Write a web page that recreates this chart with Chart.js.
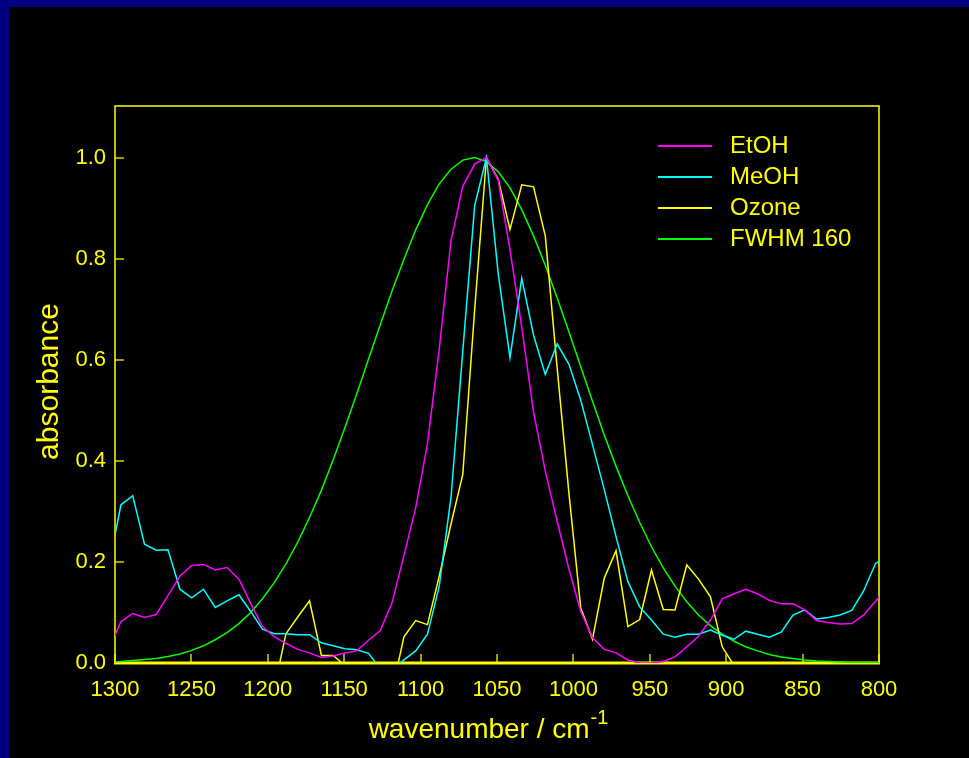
<!DOCTYPE html>
<html>
<head>
<meta charset="utf-8">
<script src="https://cdn.jsdelivr.net/npm/chart.js@4/dist/chart.umd.min.js"></script>
<style>
  html, body { margin: 0; padding: 0; background: #000080; overflow: hidden; }
  #panel { position: absolute; left: 9px; top: 7px; right: 0; bottom: 0; background: #000; }
  #spectra { position: absolute; left: 0; top: 0; }
</style>
</head>
<body>
<div id="panel"></div>
<canvas id="spectra" width="969" height="758"></canvas>
<script>
// wavenumber grid (cm-1), first and last points fall just outside the axis
const wavenumbers = [1303.8, 1296.1, 1288.4, 1280.7, 1273.0, 1265.3, 1257.5, 1249.8, 1242.1, 1234.4,
  1226.7, 1218.9, 1211.2, 1203.5, 1195.8, 1188.1, 1180.4, 1172.7, 1164.9, 1157.2,
  1149.5, 1141.8, 1134.1, 1126.4, 1118.7, 1110.9, 1103.2, 1095.5, 1087.8, 1080.1,
  1072.4, 1064.6, 1056.9, 1049.2, 1041.5, 1033.8, 1026.1, 1018.4, 1010.6, 1002.9,
  995.2, 987.5, 979.8, 972.1, 964.3, 956.6, 948.9, 941.2, 933.5, 925.8,
  918.1, 910.3, 902.6, 894.9, 887.2, 879.5, 871.8, 864.0, 856.3, 848.6,
  840.9, 833.2, 825.5, 817.8, 810.0, 802.3, 794.6];

const etoh = [0.028, 0.082, 0.098, 0.090, 0.096, 0.134, 0.172, 0.193, 0.195, 0.184,
  0.189, 0.166, 0.118, 0.072, 0.052, 0.039, 0.027, 0.020, 0.011, 0.014,
  0.020, 0.024, 0.045, 0.064, 0.119, 0.213, 0.307, 0.434, 0.621, 0.835,
  0.943, 0.987, 1.000, 0.955, 0.818, 0.664, 0.497, 0.380, 0.280, 0.186,
  0.102, 0.050, 0.027, 0.020, 0.006, 0.000, 0.000, 0.003, 0.012, 0.032,
  0.053, 0.085, 0.127, 0.137, 0.146, 0.137, 0.124, 0.117, 0.117, 0.105,
  0.084, 0.080, 0.077, 0.078, 0.095, 0.122, 0.150];

const meoh = [0.195, 0.313, 0.331, 0.235, 0.223, 0.224, 0.146, 0.129, 0.146, 0.110,
  0.123, 0.135, 0.102, 0.067, 0.058, 0.058, 0.056, 0.056, 0.040, 0.034,
  0.028, 0.026, 0.019, -0.011, -0.012, 0.006, 0.024, 0.057, 0.152, 0.328,
  0.617, 0.905, 1.000, 0.770, 0.604, 0.761, 0.649, 0.571, 0.631, 0.591,
  0.520, 0.432, 0.343, 0.250, 0.161, 0.111, 0.085, 0.057, 0.051, 0.057,
  0.057, 0.065, 0.055, 0.047, 0.063, 0.057, 0.051, 0.061, 0.095, 0.105,
  0.087, 0.090, 0.095, 0.104, 0.143, 0.197, 0.210];

const ozone = [-0.03, -0.04, -0.03, -0.05, -0.04, -0.03, -0.05, -0.04, -0.06, -0.05,
  -0.04, -0.05, -0.06, -0.05, -0.05, 0.058, 0.091, 0.123, 0.015, 0.015,
  -0.005, -0.02, -0.03, -0.03, -0.056, 0.052, 0.084, 0.076, 0.172, 0.275,
  0.373, 0.700, 1.000, 0.957, 0.858, 0.946, 0.942, 0.845, 0.583, 0.335,
  0.109, 0.047, 0.168, 0.222, 0.072, 0.086, 0.184, 0.106, 0.105, 0.194,
  0.166, 0.131, 0.032, -0.005, -0.03, -0.04, -0.05, -0.04, -0.05, -0.06,
  -0.05, -0.04, -0.05, -0.06, -0.05, -0.04, -0.05];

const fwhm160 = [0.002, 0.003, 0.005, 0.007, 0.009, 0.013, 0.018, 0.025, 0.034, 0.046,
  0.060, 0.078, 0.100, 0.127, 0.159, 0.196, 0.239, 0.288, 0.342, 0.402,
  0.466, 0.532, 0.601, 0.669, 0.736, 0.799, 0.857, 0.907, 0.948, 0.977,
  0.995, 1.000, 0.992, 0.972, 0.940, 0.897, 0.845, 0.787, 0.722, 0.655,
  0.586, 0.518, 0.451, 0.389, 0.331, 0.278, 0.230, 0.188, 0.152, 0.121,
  0.095, 0.074, 0.057, 0.043, 0.032, 0.024, 0.017, 0.012, 0.009, 0.006,
  0.004, 0.003, 0.002, 0.001, 0.001, 0.001, 0.000];

const seriesNames = ['EtOH', 'MeOH', 'Ozone', 'FWHM 160'];
const seriesColors = ['#ff00ff', '#00ffff', '#ffff00', '#00ff00'];
const xTicks = [1300, 1250, 1200, 1150, 1100, 1050, 1000, 950, 900, 850, 800];
const yTicks = [0, 0.2, 0.4, 0.6, 0.8, 1.0];

const YELLOW = '#ffff00';
const TICK = '#9e9e00';
const FONT = '"Liberation Sans", Arial, sans-serif';

function toPoints(values) {
  return wavenumbers.map((w, i) => ({ x: w, y: values[i] }));
}

// frame, inward tick marks, legend and axis titles
const decorations = {
  id: 'decorations',
  beforeDatasetsDraw(chart) {
    const { ctx, chartArea: a, scales } = chart;
    ctx.save();
    ctx.strokeStyle = TICK;
    ctx.lineWidth = 2;
    xTicks.forEach(v => {
      const px = Math.round(scales.x.getPixelForValue(v));
      ctx.beginPath();
      ctx.moveTo(px, a.bottom);
      ctx.lineTo(px, a.bottom - 9);
      ctx.stroke();
    });
    yTicks.forEach(v => {
      const py = Math.round(scales.y.getPixelForValue(v));
      ctx.beginPath();
      ctx.moveTo(a.left, py);
      ctx.lineTo(a.left + 9, py);
      ctx.stroke();
    });
    ctx.strokeStyle = YELLOW;
    ctx.lineWidth = 1.5;
    ctx.strokeRect(a.left, a.top, a.right - a.left, a.bottom - a.top);
    ctx.lineWidth = 3;
    ctx.beginPath();
    ctx.moveTo(a.left - 1, a.bottom);
    ctx.lineTo(a.right + 1, a.bottom);
    ctx.stroke();
    ctx.restore();
  },
  afterDraw(chart) {
    const { ctx, chartArea: a } = chart;
    ctx.save();
    // legend
    ctx.font = '24px ' + FONT;
    ctx.textBaseline = 'middle';
    ctx.textAlign = 'left';
    chart.data.datasets.forEach((ds, i) => {
      const y = 146 + i * 31;
      ctx.strokeStyle = ds.borderColor;
      ctx.lineWidth = 2;
      ctx.beginPath();
      ctx.moveTo(658, y);
      ctx.lineTo(712, y);
      ctx.stroke();
      ctx.fillStyle = YELLOW;
      ctx.fillText(ds.label, 730, y);
    });
    // x title with superscript
    ctx.fillStyle = YELLOW;
    const main = 'wavenumber / cm';
    const sup = '-1';
    ctx.font = '28px ' + FONT;
    const wMain = ctx.measureText(main).width;
    ctx.font = '20px ' + FONT;
    const wSup = ctx.measureText(sup).width;
    const cx = (a.left + a.right) / 2 - 9;
    const x0 = cx - (wMain + wSup) / 2;
    ctx.font = '28px ' + FONT;
    ctx.fillText(main, x0, 730);
    ctx.font = '20px ' + FONT;
    ctx.fillText(sup, x0 + wMain + 1, 718);
    // y title
    ctx.font = '30px ' + FONT;
    ctx.translate(50, (a.top + a.bottom) / 2 - 3);
    ctx.rotate(-Math.PI / 2);
    ctx.textAlign = 'center';
    ctx.fillText('absorbance', 0, 0);
    ctx.restore();
  }
};

const datasets = [etoh, meoh, ozone, fwhm160].map((vals, i) => ({
  label: seriesNames[i],
  data: toPoints(vals),
  borderColor: seriesColors[i],
  backgroundColor: seriesColors[i],
  borderWidth: 1.5,
  pointRadius: 0,
  tension: 0,
  fill: false
}));

new Chart(document.getElementById('spectra'), {
  type: 'line',
  data: { datasets: datasets },
  options: {
    responsive: false,
    animation: false,
    events: [],
    layout: { padding: { left: 0, right: 90, top: 106, bottom: 0 } },
    plugins: { legend: { display: false }, tooltip: { enabled: false } },
    scales: {
      x: {
        type: 'linear',
        reverse: true,
        min: 800,
        max: 1300,
        afterFit: s => { s.height = 95; },
        afterBuildTicks: s => { s.ticks = xTicks.map(v => ({ value: v })); },
        grid: { display: false, drawTicks: false },
        border: { display: false },
        ticks: {
          color: YELLOW,
          font: { family: FONT, size: 22 },
          padding: 14,
          autoSkip: false,
          maxRotation: 0,
          callback: v => String(v)
        }
      },
      y: {
        type: 'linear',
        min: 0,
        max: 1.102,
        afterFit: s => { s.width = 115; },
        afterBuildTicks: s => { s.ticks = yTicks.map(v => ({ value: v })); },
        grid: { display: false, drawTicks: false },
        border: { display: false },
        ticks: {
          color: YELLOW,
          font: { family: FONT, size: 22 },
          padding: 9,
          callback: v => v.toFixed(1)
        }
      }
    }
  },
  plugins: [decorations]
});
</script>
</body>
</html>
